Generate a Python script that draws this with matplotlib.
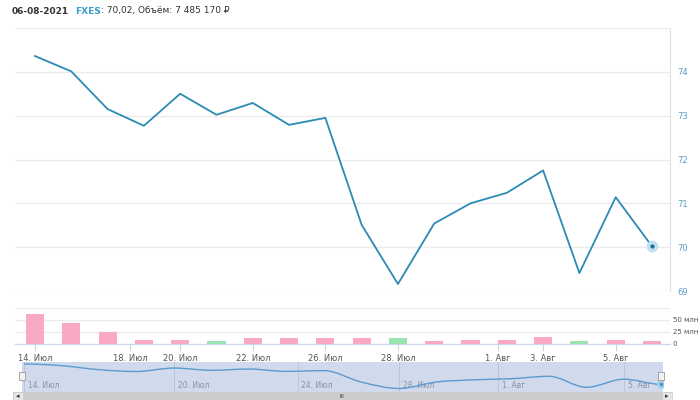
import matplotlib
matplotlib.use("Agg")
import matplotlib.pyplot as plt
from matplotlib.path import Path
from matplotlib.patches import PathPatch, Rectangle

# trading days 14.07.2021 - 06.08.2021
dates = ["14.07", "15.07", "16.07", "19.07", "20.07", "21.07", "22.07", "23.07", "26.07",
         "27.07", "28.07", "29.07", "30.07", "02.08", "03.08", "04.08", "05.08", "06.08"]
close = [74.36, 74.01, 73.15, 72.77, 73.50, 73.02, 73.29, 72.79, 72.95,
         70.51, 69.16, 70.54, 71.00, 71.24, 71.75, 69.41, 71.14, 70.02]
volume = [62, 43, 26, 9, 8, 7, 13, 11.5, 11.5, 11.5, 12, 5.5, 9, 9, 15, 7, 9, 5.5]  # млн
vol_up = [False, False, False, False, False, True, False, False, False,
          False, True, False, False, False, False, True, False, False]

# axis labels (ordinal positions)
x_tick_pos = [0, 2.62, 4, 6, 8, 10, 12.75, 14, 16]
x_tick_lab = ["14. Июл", "18. Июл", "20. Июл", "22. Июл", "26. Июл", "28. Июл", "1. Авг", "3. Авг", "5. Авг"]
nav_tick_pos = [0, 4, 7.3, 10, 12.64, 16]
nav_tick_lab = ["14. Июл", "20. Июл", "24. Июл", "28. Июл", "1. Авг", "5. Авг"]
price_ticks = [69, 70, 71, 72, 73, 74]
vol_ticks = [0, 25, 50]
vol_tick_lab = ["0", "25 млн", "50 млн"]

LINE = "#2b8bb4"
GRID = "#ececec"
W, H = 700, 400


def box(left, top, right, bottom):
    return [left / W, 1 - bottom / H, (right - left) / W, (bottom - top) / H]


fig = plt.figure(figsize=(7, 4), dpi=100)
fig.patch.set_facecolor("white")
x = list(range(len(close)))
xlim = (-0.551, 17.496)

# ---- price panel
ax = fig.add_axes(box(15, 28, 670, 291))
ax.plot(x, close, color=LINE, lw=1.3, zorder=3)
ax.scatter([x[-1]], [close[-1]], s=70, color="#bfe0f0", zorder=4, lw=0)
ax.scatter([x[-1]], [close[-1]], s=9, color="#1a6f94", zorder=5, lw=0)
ax.set_xlim(*xlim)
ax.set_ylim(69, 75)
ax.set_yticks(price_ticks + [75])
ax.set_yticklabels([str(t) for t in price_ticks] + [""])
ax.yaxis.tick_right()
ax.tick_params(axis="y", length=0, pad=5, labelsize=6, labelcolor="#5b9fc4")
ax.set_xticks([])
ax.grid(axis="y", color=GRID, lw=1)
for s in ["left", "top", "bottom"]:
    ax.spines[s].set_visible(False)
ax.spines["right"].set_color("#dde3ea")

# ---- volume panel
av = fig.add_axes(box(15, 308, 670, 344))
av.bar(x, volume, width=0.5, color=["#9ce3b3" if u else "#f9a9c6" for u in vol_up], zorder=3)
av.set_xlim(*xlim)
av.set_ylim(0, 75)
av.set_yticks(vol_ticks + [75])
av.set_yticklabels(vol_tick_lab + [""])
av.yaxis.tick_right()
av.tick_params(axis="y", length=0, pad=2, labelsize=5, labelcolor="#555555")
av.grid(axis="y", color=GRID, lw=1)
av.set_xticks(x_tick_pos)
av.set_xticklabels(x_tick_lab)
av.tick_params(axis="x", length=5, width=0.8, color="#ccd6eb", labelsize=6, labelcolor="#555555", pad=2)
for s in ["left", "top", "right"]:
    av.spines[s].set_visible(False)
av.spines["bottom"].set_color("#ccd6eb")

# ---- navigator (spline drawing of the same series)
an = fig.add_axes(box(22, 361.5, 663, 391.5))
an.set_facecolor("#d1daed")
n = len(close)
verts = [(x[0], close[0])]
codes = [Path.MOVETO]


def slope(i):
    if i == 0 or i == n - 1:
        return 0.0
    a, b, c = close[i - 1], close[i], close[i + 1]
    if (b - a) * (c - b) <= 0:
        return 0.0
    return (c - a) / 2.0


for i in range(n - 1):
    d = 1 / 3
    verts += [(x[i] + d, close[i] + slope(i) * d),
              (x[i + 1] - d, close[i + 1] - slope(i + 1) * d),
              (x[i + 1], close[i + 1])]
    codes += [Path.CURVE4] * 3
an.add_patch(PathPatch(Path(verts, codes), fill=False, edgecolor="#5a9ad0", lw=1.0, zorder=3))
an.scatter([x[-1]], [close[-1]], s=40, color="#9fd0ec", zorder=4, lw=0)
an.scatter([x[-1]], [close[-1]], s=6, color="#4a8fc9", zorder=5, lw=0)
an.set_xlim(-0.053, 17.04)
an.set_ylim(68.52, 74.89)
an.set_xticks([])
an.set_yticks([])
for t, lab in zip(nav_tick_pos, nav_tick_lab):
    an.axvline(t, color="#bcc6d8", lw=0.7, zorder=1)
    an.text(t + 0.1, 68.75, lab, fontsize=5.5, color="#8a93a3", va="bottom", ha="left", zorder=2)
for s in an.spines.values():
    s.set_visible(False)
# handles
for hx in [22, 661]:
    fig.patches.append(Rectangle((hx / W - 3 / W, 1 - 380 / H), 6 / W, 8 / H, transform=fig.transFigure,
                                 facecolor="#f2f2f2", edgecolor="#999999", lw=0.6, zorder=6))

# ---- scrollbar
fig.patches.append(Rectangle((13 / W, 1 - 400 / H), 659 / W, 8 / H, transform=fig.transFigure,
                             facecolor="#cccccc", edgecolor="none"))
for bx in [13, 662]:
    fig.patches.append(Rectangle((bx / W, 1 - 400 / H), 10 / W, 8 / H, transform=fig.transFigure,
                                 facecolor="#e6e6e6", edgecolor="#cccccc", lw=0.5))
fig.text(18 / W, 1 - 396 / H, "◂", fontsize=5, color="#333333", ha="center", va="center")
fig.text(667 / W, 1 - 396 / H, "▸", fontsize=5, color="#333333", ha="center", va="center")
fig.text(342 / W, 1 - 396 / H, "III", fontsize=4, color="#333333", ha="center", va="center")

# ---- header
renderer = fig.canvas.get_renderer()
parts = [("06-08-2021", "#333333", "bold", 0), ("FXES", "#3a9fcc", "bold", 6),
         (": 70,02, Объём: 7 485 170 ₽", "#333333", "normal", 0)]
xpos = 12
for txt, col, wt, gap in parts:
    xpos += gap
    t = fig.text(xpos / W, 1 - 11 / H, txt, fontsize=6.5, color=col, fontweight=wt, va="center", ha="left")
    xpos += t.get_window_extent(renderer).width

fig.savefig("out.png", dpi=100)
